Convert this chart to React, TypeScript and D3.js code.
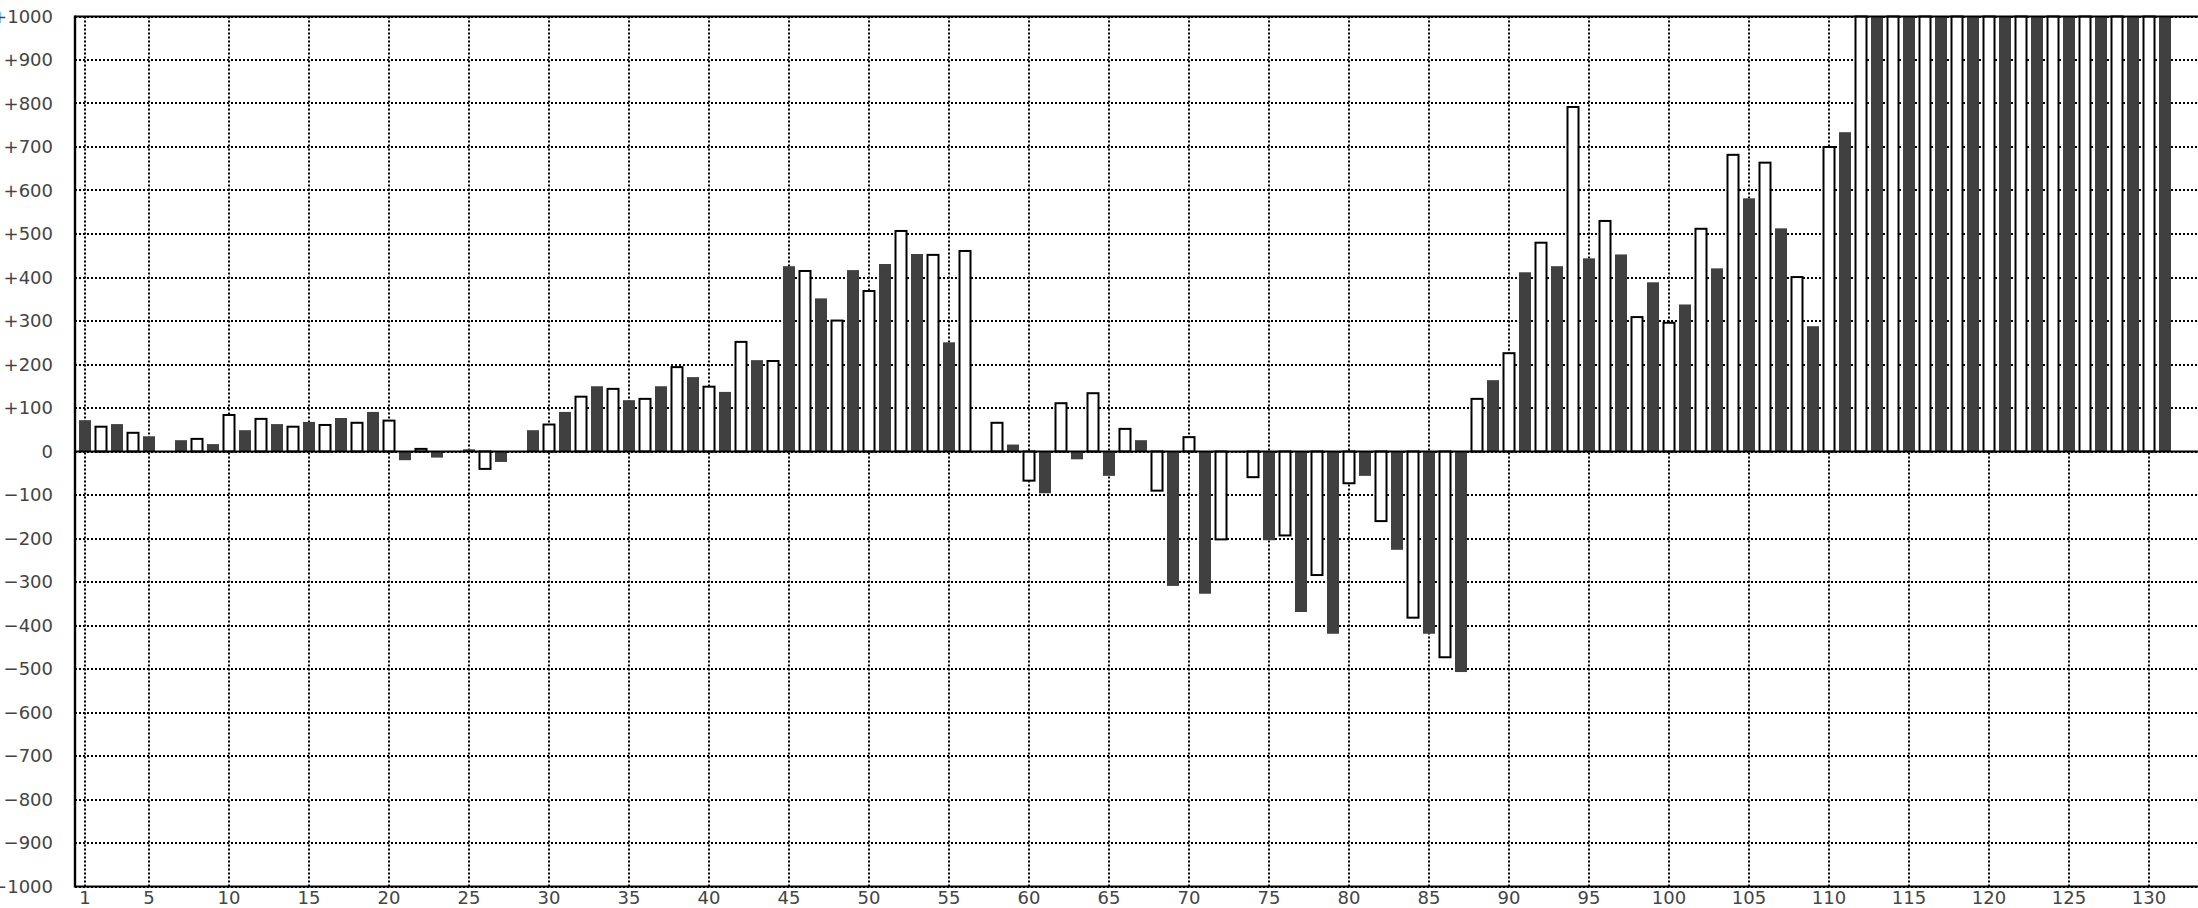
import React from "react";
import * as d3 from "d3";

// Categories 1..131; dark series on odd categories, white series on even ones.
const categories: number[] = d3.range(1, 132);
const darkCats: number[] = d3.range(1, 132, 2);
const whiteCats: number[] = d3.range(2, 131, 2);

// Dark (filled) series values, categories 1,3,5,...,131
const darkValues: number[] = [
  72, 63, 35, 26, 17, 49, 63, 68, 77, 91,
  -20, -14, 5, -24, 49, 91, 150, 118, 150, 171,
  137, 210, 426, 352, 417, 431, 454, 251, 0, 16,
  -96, -18, -56, 26, -309, -327, -2, -204, -369, -419,
  -56, -226, -419, -507, 164, 412, 426, 444, 453, 389,
  338, 421, 582, 513, 288, 734, 1000, 1000, 1000, 1000,
  1000, 1000, 1000, 1000, 1000, 1000,
];

// White (outlined) series values, categories 2,4,6,...,130
const whiteValues: number[] = [
  57, 43, 0, 29, 84, 75, 57, 61, 66, 71,
  6, 0, -40, 0, 62, 126, 144, 121, 194, 149,
  252, 208, 415, 301, 369, 507, 452, 461, 66, -67,
  111, 134, 52, -90, 33, -202, -59, -193, -284, -73,
  -160, -382, -473, 121, 226, 480, 792, 530, 309, 296,
  512, 682, 664, 401, 700, 1000, 1000, 1000, 1000, 1000,
  1000, 1000, 1000, 1000, 1000,
];

const xTicks: number[] = [1, 5, 10, 15, 20, 25, 30, 35, 40, 45, 50, 55, 60, 65, 70, 75, 80, 85, 90, 95, 100, 105, 110, 115, 120, 125, 130];
const yTicks: number[] = d3.range(-1000, 1001, 100);

const W = 2198;
const H = 908;

export default function App() {
  const x = d3.scaleLinear().domain([1, 130]).range([85, 2149]);
  const y = d3.scaleLinear().domain([-1000, 1000]).range([886.5, 16.5]);
  const left = 75;
  const right = W + 10;
  const top = y(1000);
  const bottom = y(-1000);
  const barW = 12;
  const font = "'DejaVu Sans', sans-serif";
  const fmt = (v: number) => (v > 0 ? "+" + v : v < 0 ? "\u2212" + Math.abs(v) : "0");

  const darkBars = darkCats.map((c, i) => ({ c, v: darkValues[i] })).filter((d) => d.v !== 0);
  const whiteBars = whiteCats.map((c, i) => ({ c, v: whiteValues[i] })).filter((d) => d.v !== 0);

  return (
    <div style={{ position: "fixed", left: 0, top: 0, width: W, height: H, background: "#fff" }}>
      <svg width={W} height={H} style={{ display: "block" }}>
        <rect x={0} y={0} width={W} height={H} fill="#fff" />
        {/* grid */}
        <g stroke="#000" strokeWidth={2} strokeDasharray="2,2">
          {yTicks.map((t) => (
            <line key={"gy" + t} x1={left} x2={right} y1={Math.round(y(t))} y2={Math.round(y(t))} />
          ))}
          {xTicks.map((t) => (
            <line key={"gx" + t} x1={x(t)} x2={x(t)} y1={top} y2={bottom} />
          ))}
        </g>
        {/* bars */}
        <g>
          {darkBars.map((d) => (
            <rect
              key={"d" + d.c}
              x={x(d.c) - barW / 2}
              width={barW}
              y={Math.min(y(d.v), y(0))}
              height={Math.abs(y(d.v) - y(0))}
              fill="#404040"
            />
          ))}
          {whiteBars.map((d) => (
            <rect
              key={"w" + d.c}
              x={x(d.c) - barW / 2 + 0.5}
              width={barW - 1}
              y={Math.min(y(d.v), y(0))}
              height={Math.abs(y(d.v) - y(0))}
              fill="#fff"
              stroke="#000"
              strokeWidth={2}
            />
          ))}
        </g>
        {/* zero line and frame */}
        <line x1={left} x2={right} y1={y(0)} y2={y(0)} stroke="#000" strokeWidth={2} />
        <line x1={left} x2={right} y1={top} y2={top} stroke="#000" strokeWidth={2} />
        <line x1={left} x2={right} y1={bottom} y2={bottom} stroke="#000" strokeWidth={2} />
        <line x1={left} x2={left} y1={top - 1} y2={bottom + 1} stroke="#000" strokeWidth={2.4} />
        {/* y labels */}
        <g fontFamily={font} fontSize={18} fill="#444" textAnchor="end">
          {yTicks.map((t) => (
            <text key={"ly" + t} x={53} y={y(t)} dy="0.36em">
              {fmt(t)}
            </text>
          ))}
        </g>
        {/* x labels */}
        <g fontFamily={font} fontSize={18} fill="#444" textAnchor="middle">
          {xTicks.map((t) => (
            <text key={"lx" + t} x={x(t)} y={903.5}>
              {t}
            </text>
          ))}
        </g>
      </svg>
    </div>
  );
}
